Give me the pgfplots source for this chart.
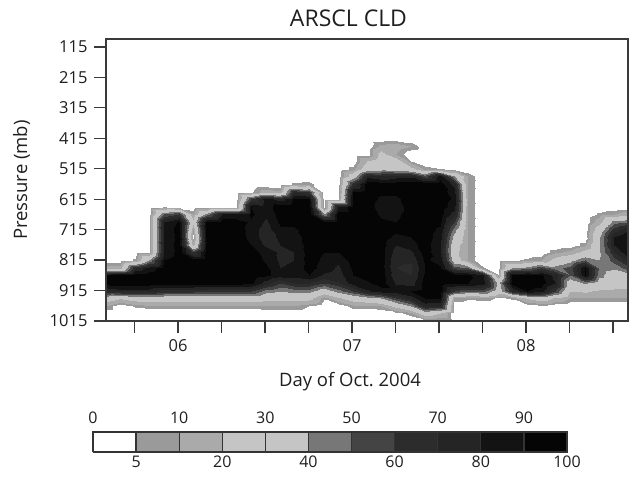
\documentclass[border=0pt]{standalone}
\usepackage{pgfplots}
\pgfplotsset{compat=1.18}
\usepackage{pgfplotstable}
\usepackage{fontspec}
\setmainfont{Open Sans}
\definecolor{axgray}{HTML}{3A3A3A}
\definecolor{cA}{HTML}{9A9A9A}
\definecolor{cB}{HTML}{AAAAAA}
\definecolor{cC}{HTML}{C5C5C5}
\definecolor{cD}{HTML}{C5C5C5}
\definecolor{cE}{HTML}{777777}
\definecolor{cF}{HTML}{444444}
\definecolor{cG}{HTML}{2C2C2C}
\definecolor{cH}{HTML}{252525}
\definecolor{cI}{HTML}{131313}
\definecolor{cJ}{HTML}{050505}
\definecolor{cbline}{HTML}{333333}

\pgfplotstableread{
x y c
5.586 1015 0
5.669 1015 0
5.753 1015 0
5.836 1015 0
5.919 1015 0
6.003 1015 0
6.086 1015 0
6.169 1015 0
6.253 1015 0
6.336 1015 0
6.419 1015 0
6.503 1015 0
6.586 1015 0
6.669 1015 0
6.753 1015 0
6.836 1015 0
6.919 1015 0
7.003 1015 0
7.086 1015 0
7.169 1015 0
7.253 1015 0
7.336 1015 0
7.419 1015 3
7.503 1015 0
7.586 1015 0
7.669 1015 0
7.753 1015 0
7.836 1015 0
7.919 1015 0
8.003 1015 0
8.086 1015 0
8.169 1015 0
8.253 1015 0
8.336 1015 0
8.419 1015 0
8.503 1015 0
8.586 1015 0
5.586 990 0
5.669 990 0
5.753 990 0
5.836 990 0
5.919 990 0
6.003 990 0
6.086 990 0
6.169 990 0
6.253 990 0
6.336 990 0
6.419 990 0
6.503 990 0
6.586 990 0
6.669 990 0
6.753 990 0
6.836 990 0
6.919 990 0
7.003 990 0
7.086 990 0
7.169 990 0
7.253 990 3
7.336 990 8
7.419 990 30
7.503 990 20
7.586 990 0
7.669 990 0
7.753 990 0
7.836 990 0
7.919 990 0
8.003 990 0
8.086 990 0
8.169 990 0
8.253 990 0
8.336 990 0
8.419 990 0
8.503 990 0
8.586 990 0
5.586 965 10
5.669 965 0
5.753 965 6
5.836 965 8
5.919 965 8
6.003 965 8
6.086 965 8
6.169 965 8
6.253 965 8
6.336 965 8
6.419 965 8
6.503 965 10
6.586 965 10
6.669 965 10
6.753 965 5
6.836 965 0
6.919 965 0
7.003 965 8
7.086 965 8
7.169 965 10
7.253 965 25
7.336 965 40
7.419 965 75
7.503 965 70
7.586 965 0
7.669 965 0
7.753 965 0
7.836 965 0
7.919 965 0
8.003 965 0
8.086 965 3
8.169 965 0
8.253 965 0
8.336 965 0
8.419 965 0
8.503 965 0
8.586 965 0
5.586 940 30
5.669 940 22
5.753 940 28
5.836 940 30
5.919 940 30
6.003 940 30
6.086 940 30
6.169 940 28
6.253 940 28
6.336 940 28
6.419 940 28
6.503 940 25
6.586 940 25
6.669 940 26
6.753 940 25
6.836 940 6
6.919 940 18
7.003 940 28
7.086 940 35
7.169 940 40
7.253 940 60
7.336 940 75
7.419 940 90
7.503 940 90
7.586 940 10
7.669 940 6
7.753 940 8
7.836 940 4
7.919 940 6
8.003 940 22
8.086 940 30
8.169 940 18
8.253 940 10
8.336 940 10
8.419 940 10
8.503 940 10
8.586 940 10
5.586 915 70
5.669 915 75
5.753 915 75
5.836 915 75
5.919 915 65
6.003 915 65
6.086 915 65
6.169 915 62
6.253 915 60
6.336 915 60
6.419 915 60
6.503 915 45
6.586 915 40
6.669 915 45
6.753 915 45
6.836 915 30
6.919 915 45
7.003 915 60
7.086 915 78
7.169 915 85
7.253 915 85
7.336 915 90
7.419 915 95
7.503 915 95
7.586 915 60
7.669 915 50
7.753 915 55
7.836 915 30
7.919 915 70
8.003 915 90
8.086 915 85
8.169 915 60
8.253 915 20
8.336 915 22
8.419 915 18
8.503 915 18
8.586 915 18
5.586 890 95
5.669 890 95
5.753 890 95
5.836 890 95
5.919 890 95
6.003 890 97
6.086 890 95
6.169 890 95
6.253 890 95
6.336 890 95
6.419 890 93
6.503 890 75
6.586 890 60
6.669 890 70
6.753 890 70
6.836 890 60
6.919 890 68
7.003 890 85
7.086 890 88
7.169 890 95
7.253 890 78
7.336 890 75
7.419 890 95
7.503 890 95
7.586 890 92
7.669 890 90
7.753 890 85
7.836 890 35
7.919 890 95
8.003 890 97
8.086 890 95
8.169 890 80
8.253 890 30
8.336 890 42
8.419 890 30
8.503 890 25
8.586 890 25
5.586 865 90
5.669 865 92
5.753 865 95
5.836 865 95
5.919 865 97
6.003 865 98
6.086 865 95
6.169 865 97
6.253 865 97
6.336 865 97
6.419 865 96
6.503 865 92
6.586 865 85
6.669 865 85
6.753 865 90
6.836 865 78
6.919 865 75
7.003 865 90
7.086 865 95
7.169 865 95
7.253 865 72
7.336 865 70
7.419 865 92
7.503 865 95
7.586 865 95
7.669 865 92
7.753 865 80
7.836 865 5.5
7.919 865 95
8.003 865 95
8.086 865 92
8.169 865 75
8.253 865 50
8.336 865 90
8.419 865 45
8.503 865 30
8.586 865 35
5.586 840 15
5.669 840 15
5.753 840 70
5.836 840 85
5.919 840 95
6.003 840 98
6.086 840 95
6.169 840 98
6.253 840 98
6.336 840 98
6.419 840 97
6.503 840 92
6.586 840 80
6.669 840 82
6.753 840 95
6.836 840 85
6.919 840 78
7.003 840 92
7.086 840 95
7.169 840 95
7.253 840 70
7.336 840 68
7.419 840 90
7.503 840 92
7.586 840 55
7.669 840 50
7.753 840 6
7.836 840 0
7.919 840 40
8.003 840 45
8.086 840 60
8.169 840 45
8.253 840 55
8.336 840 90
8.419 840 48
8.503 840 42
8.586 840 55
5.586 815 0
5.669 815 0
5.753 815 6
5.836 815 40
5.919 815 90
6.003 815 97
6.086 815 95
6.169 815 98
6.253 815 98
6.336 815 98
6.419 815 97
6.503 815 88
6.586 815 78
6.669 815 80
6.753 815 95
6.836 815 88
6.919 815 82
7.003 815 95
7.086 815 95
7.169 815 95
7.253 815 72
7.336 815 72
7.419 815 92
7.503 815 85
7.586 815 30
7.669 815 9
7.753 815 0
7.836 815 0
7.919 815 4
8.003 815 6
8.086 815 10
8.169 815 25
8.253 815 35
8.336 815 50
8.419 815 40
8.503 815 55
8.586 815 75
5.586 790 0
5.669 790 0
5.753 790 0
5.836 790 4
5.919 790 80
6.003 790 95
6.086 790 60
6.169 790 98
6.253 790 98
6.336 790 98
6.419 790 95
6.503 790 85
6.586 790 78
6.669 790 80
6.753 790 95
6.836 790 90
6.919 790 90
7.003 790 95
7.086 790 95
7.169 790 95
7.253 790 75
7.336 790 78
7.419 790 95
7.503 790 82
7.586 790 25
7.669 790 9
7.753 790 0
7.836 790 0
7.919 790 0
8.003 790 0
8.086 790 0
8.169 790 8
8.253 790 12
8.336 790 25
8.419 790 38
8.503 790 70
8.586 790 88
5.586 765 0
5.669 765 0
5.753 765 0
5.836 765 0
5.919 765 80
6.003 765 95
6.086 765 15
6.169 765 97
6.253 765 98
6.336 765 98
6.419 765 90
6.503 765 78
6.586 765 80
6.669 765 82
6.753 765 95
6.836 765 95
6.919 765 95
7.003 765 95
7.086 765 95
7.169 765 95
7.253 765 80
7.336 765 85
7.419 765 95
7.503 765 82
7.586 765 28
7.669 765 9
7.753 765 0
7.836 765 0
7.919 765 0
8.003 765 0
8.086 765 0
8.169 765 0
8.253 765 0
8.336 765 8
8.419 765 38
8.503 765 80
8.586 765 90
5.586 740 0
5.669 740 0
5.753 740 0
5.836 740 0
5.919 740 80
6.003 740 95
6.086 740 3
6.169 740 97
6.253 740 98
6.336 740 98
6.419 740 85
6.503 740 75
6.586 740 82
6.669 740 85
6.753 740 95
6.836 740 95
6.919 740 95
7.003 740 95
7.086 740 95
7.169 740 95
7.253 740 88
7.336 740 90
7.419 740 95
7.503 740 85
7.586 740 35
7.669 740 9
7.753 740 0
7.836 740 0
7.919 740 0
8.003 740 0
8.086 740 0
8.169 740 0
8.253 740 0
8.336 740 0
8.419 740 38
8.503 740 80
8.586 740 90
5.586 715 0
5.669 715 0
5.753 715 0
5.836 715 0
5.919 715 80
6.003 715 95
6.086 715 10
6.169 715 97
6.253 715 98
6.336 715 98
6.419 715 85
6.503 715 75
6.586 715 88
6.669 715 88
6.753 715 95
6.836 715 95
6.919 715 95
7.003 715 95
7.086 715 95
7.169 715 95
7.253 715 92
7.336 715 95
7.419 715 95
7.503 715 88
7.586 715 45
7.669 715 9
7.753 715 0
7.836 715 0
7.919 715 0
8.003 715 0
8.086 715 0
8.169 715 0
8.253 715 0
8.336 715 0
8.419 715 30
8.503 715 65
8.586 715 80
5.586 690 0
5.669 690 0
5.753 690 0
5.836 690 0
5.919 690 80
6.003 690 92
6.086 690 25
6.169 690 95
6.253 690 96
6.336 690 96
6.419 690 88
6.503 690 78
6.586 690 92
6.669 690 93
6.753 690 95
6.836 690 95
6.919 690 95
7.003 690 95
7.086 690 95
7.169 690 92
7.253 690 90
7.336 690 95
7.419 690 95
7.503 690 92
7.586 690 60
7.669 690 9
7.753 690 0
7.836 690 0
7.919 690 0
8.003 690 0
8.086 690 0
8.169 690 0
8.253 690 0
8.336 690 0
8.419 690 15
8.503 690 45
8.586 690 50
5.586 665 0
5.669 665 0
5.753 665 0
5.836 665 0
5.919 665 50
6.003 665 60
6.086 665 10
6.169 665 45
6.253 665 80
6.336 665 80
6.419 665 92
6.503 665 82
6.586 665 95
6.669 665 95
6.753 665 95
6.836 665 40
6.919 665 95
7.003 665 95
7.086 665 95
7.169 665 88
7.253 665 88
7.336 665 95
7.419 665 95
7.503 665 95
7.586 665 75
7.669 665 9
7.753 665 0
7.836 665 0
7.919 665 0
8.003 665 0
8.086 665 0
8.169 665 0
8.253 665 0
8.336 665 0
8.419 665 6
8.503 665 10
8.586 665 15
5.586 640 0
5.669 640 0
5.753 640 0
5.836 640 0
5.919 640 5.5
6.003 640 3
6.086 640 0
6.169 640 0
6.253 640 3
6.336 640 4
6.419 640 90
6.503 640 85
6.586 640 95
6.669 640 95
6.753 640 95
6.836 640 0
6.919 640 80
7.003 640 95
7.086 640 95
7.169 640 85
7.253 640 85
7.336 640 95
7.419 640 95
7.503 640 95
7.586 640 85
7.669 640 9
7.753 640 0
7.836 640 0
7.919 640 0
8.003 640 0
8.086 640 0
8.169 640 0
8.253 640 0
8.336 640 0
8.419 640 0
8.503 640 0
8.586 640 0
5.586 615 0
5.669 615 0
5.753 615 0
5.836 615 0
5.919 615 0
6.003 615 0
6.086 615 0
6.169 615 0
6.253 615 0
6.336 615 0
6.419 615 60
6.503 615 85
6.586 615 75
6.669 615 92
6.753 615 90
6.836 615 0
6.919 615 4
7.003 615 95
7.086 615 95
7.169 615 88
7.253 615 88
7.336 615 95
7.419 615 95
7.503 615 95
7.586 615 88
7.669 615 9
7.753 615 0
7.836 615 0
7.919 615 0
8.003 615 0
8.086 615 0
8.169 615 0
8.253 615 0
8.336 615 0
8.419 615 0
8.503 615 0
8.586 615 0
5.586 590 0
5.669 590 0
5.753 590 0
5.836 590 0
5.919 590 0
6.003 590 0
6.086 590 0
6.169 590 0
6.253 590 0
6.336 590 0
6.419 590 4
6.503 590 15
6.586 590 12
6.669 590 70
6.753 590 60
6.836 590 0
6.919 590 0
7.003 590 90
7.086 590 95
7.169 590 92
7.253 590 92
7.336 590 95
7.419 590 95
7.503 590 95
7.586 590 85
7.669 590 9
7.753 590 0
7.836 590 0
7.919 590 0
8.003 590 0
8.086 590 0
8.169 590 0
8.253 590 0
8.336 590 0
8.419 590 0
8.503 590 0
8.586 590 0
5.586 565 0
5.669 565 0
5.753 565 0
5.836 565 0
5.919 565 0
6.003 565 0
6.086 565 0
6.169 565 0
6.253 565 0
6.336 565 0
6.419 565 0
6.503 565 0
6.586 565 0
6.669 565 6
6.753 565 7
6.836 565 0
6.919 565 0
7.003 565 65
7.086 565 95
7.169 565 95
7.253 565 95
7.336 565 95
7.419 565 95
7.503 565 95
7.586 565 75
7.669 565 9
7.753 565 0
7.836 565 0
7.919 565 0
8.003 565 0
8.086 565 0
8.169 565 0
8.253 565 0
8.336 565 0
8.419 565 0
8.503 565 0
8.586 565 0
5.586 540 0
5.669 540 0
5.753 540 0
5.836 540 0
5.919 540 0
6.003 540 0
6.086 540 0
6.169 540 0
6.253 540 0
6.336 540 0
6.419 540 0
6.503 540 0
6.586 540 0
6.669 540 0
6.753 540 0
6.836 540 0
6.919 540 0
7.003 540 30
7.086 540 75
7.169 540 70
7.253 540 75
7.336 540 75
7.419 540 55
7.503 540 85
7.586 540 40
7.669 540 9
7.753 540 0
7.836 540 0
7.919 540 0
8.003 540 0
8.086 540 0
8.169 540 0
8.253 540 0
8.336 540 0
8.419 540 0
8.503 540 0
8.586 540 0
5.586 515 0
5.669 515 0
5.753 515 0
5.836 515 0
5.919 515 0
6.003 515 0
6.086 515 0
6.169 515 0
6.253 515 0
6.336 515 0
6.419 515 0
6.503 515 0
6.586 515 0
6.669 515 0
6.753 515 0
6.836 515 0
6.919 515 0
7.003 515 7
7.086 515 30
7.169 515 35
7.253 515 30
7.336 515 25
7.419 515 8
7.503 515 5.5
7.586 515 4
7.669 515 0
7.753 515 0
7.836 515 0
7.919 515 0
8.003 515 0
8.086 515 0
8.169 515 0
8.253 515 0
8.336 515 0
8.419 515 0
8.503 515 0
8.586 515 0
5.586 490 0
5.669 490 0
5.753 490 0
5.836 490 0
5.919 490 0
6.003 490 0
6.086 490 0
6.169 490 0
6.253 490 0
6.336 490 0
6.419 490 0
6.503 490 0
6.586 490 0
6.669 490 0
6.753 490 0
6.836 490 0
6.919 490 0
7.003 490 0
7.086 490 20
7.169 490 30
7.253 490 28
7.336 490 5
7.419 490 0
7.503 490 0
7.586 490 0
7.669 490 0
7.753 490 0
7.836 490 0
7.919 490 0
8.003 490 0
8.086 490 0
8.169 490 0
8.253 490 0
8.336 490 0
8.419 490 0
8.503 490 0
8.586 490 0
5.586 465 0
5.669 465 0
5.753 465 0
5.836 465 0
5.919 465 0
6.003 465 0
6.086 465 0
6.169 465 0
6.253 465 0
6.336 465 0
6.419 465 0
6.503 465 0
6.586 465 0
6.669 465 0
6.753 465 0
6.836 465 0
6.919 465 0
7.003 465 0
7.086 465 0
7.169 465 25
7.253 465 10
7.336 465 0
7.419 465 0
7.503 465 0
7.586 465 0
7.669 465 0
7.753 465 0
7.836 465 0
7.919 465 0
8.003 465 0
8.086 465 0
8.169 465 0
8.253 465 0
8.336 465 0
8.419 465 0
8.503 465 0
8.586 465 0
5.586 440 0
5.669 440 0
5.753 440 0
5.836 440 0
5.919 440 0
6.003 440 0
6.086 440 0
6.169 440 0
6.253 440 0
6.336 440 0
6.419 440 0
6.503 440 0
6.586 440 0
6.669 440 0
6.753 440 0
6.836 440 0
6.919 440 0
7.003 440 0
7.086 440 0
7.169 440 12
7.253 440 15
7.336 440 10
7.419 440 0
7.503 440 0
7.586 440 0
7.669 440 0
7.753 440 0
7.836 440 0
7.919 440 0
8.003 440 0
8.086 440 0
8.169 440 0
8.253 440 0
8.336 440 0
8.419 440 0
8.503 440 0
8.586 440 0
5.586 415 0
5.669 415 0
5.753 415 0
5.836 415 0
5.919 415 0
6.003 415 0
6.086 415 0
6.169 415 0
6.253 415 0
6.336 415 0
6.419 415 0
6.503 415 0
6.586 415 0
6.669 415 0
6.753 415 0
6.836 415 0
6.919 415 0
7.003 415 0
7.086 415 0
7.169 415 0
7.253 415 0
7.336 415 0
7.419 415 0
7.503 415 0
7.586 415 0
7.669 415 0
7.753 415 0
7.836 415 0
7.919 415 0
8.003 415 0
8.086 415 0
8.169 415 0
8.253 415 0
8.336 415 0
8.419 415 0
8.503 415 0
8.586 415 0
}\cld

\begin{document}
\begin{tikzpicture}
\useasboundingbox (0,0) rectangle (639bp,479bp);
\begin{axis}[
  at={(106bp,158bp)}, anchor=south west,
  width=522bp, height=282bp, scale only axis,
  xmin=5.586, xmax=8.586, ymin=89, ymax=1015, y dir=reverse,
  axis on top,
  tick pos=left, tick align=outside,
  major tick length=12bp, minor tick length=12bp,
  xtick={6,7,8}, xticklabels={06,07,08},
  minor xtick={5.75,6.25,6.5,6.75,7.25,7.5,7.75,8.25,8.5},
  ytick={115,215,315,415,515,615,715,815,915,1015},
  yticklabels={115,215,315,415,515,615,715,815,915,1015},
  ticklabel style={font=\fontsize{16.5bp}{20bp}\selectfont, text=black!88},
  xticklabel style={yshift=-3bp},
  yticklabel style={xshift=-3bp},
  xlabel={Day of Oct.\ 2004}, ylabel={Pressure (mb)},
  label style={font=\fontsize{18.5bp}{22bp}\selectfont, text=black!88},
  xlabel style={at={(axis description cs:0.4674,-0.234)}, anchor=base},
  ylabel style={at={(axis description cs:-0.1513,0.5)}, anchor=base},
  axis line style={axgray, line width=1.2bp},
  tick style={axgray, line width=1.2bp},
  colormap={cld}{color(0pt)=(white) color(5pt)=(cA) color(10pt)=(cB) color(20pt)=(cC) color(30pt)=(cD) color(40pt)=(cE) color(50pt)=(cF) color(60pt)=(cG) color(70pt)=(cH) color(80pt)=(cI) color(90pt)=(cJ) color(100pt)=(cJ)},
  colormap access=piecewise constant,
  point meta min=0, point meta max=100,
]
\addplot[surf, shader=interp, mesh/cols=37, point meta=explicit] table[x=x, y=y, meta=c] {\cld};
\end{axis}
\node[font=\fontsize{23bp}{27bp}\selectfont, text=black!88] at (348.5bp,460.5bp) {ARSCL CLD};
\begin{axis}[
  at={(93bp,27bp)}, anchor=south west,
  width=474bp, height=20bp, scale only axis,
  xmin=0, xmax=11, ymin=0, ymax=1, hide axis, clip=false,
]
\addplot[fill=white, draw=cbline, line width=1.3bp] coordinates {(0,0) (1,0) (1,1) (0,1) (0,0)};
\addplot[fill=cA, draw=cbline, line width=1.3bp] coordinates {(1,0) (2,0) (2,1) (1,1) (1,0)};
\addplot[fill=cB, draw=cbline, line width=1.3bp] coordinates {(2,0) (3,0) (3,1) (2,1) (2,0)};
\addplot[fill=cC, draw=cbline, line width=1.3bp] coordinates {(3,0) (4,0) (4,1) (3,1) (3,0)};
\addplot[fill=cD, draw=cbline, line width=1.3bp] coordinates {(4,0) (5,0) (5,1) (4,1) (4,0)};
\addplot[fill=cE, draw=cbline, line width=1.3bp] coordinates {(5,0) (6,0) (6,1) (5,1) (5,0)};
\addplot[fill=cF, draw=cbline, line width=1.3bp] coordinates {(6,0) (7,0) (7,1) (6,1) (6,0)};
\addplot[fill=cG, draw=cbline, line width=1.3bp] coordinates {(7,0) (8,0) (8,1) (7,1) (7,0)};
\addplot[fill=cH, draw=cbline, line width=1.3bp] coordinates {(8,0) (9,0) (9,1) (8,1) (8,0)};
\addplot[fill=cI, draw=cbline, line width=1.3bp] coordinates {(9,0) (10,0) (10,1) (9,1) (9,0)};
\addplot[fill=cJ, draw=cbline, line width=1.3bp] coordinates {(10,0) (11,0) (11,1) (10,1) (10,0)};
\begin{scope}[every node/.style={font=\fontsize{16bp}{19bp}\selectfont, text=black!88, anchor=base}]
\node[yshift=9bp] at (axis cs:0,1) {0};
\node[yshift=9bp] at (axis cs:2,1) {10};
\node[yshift=9bp] at (axis cs:4,1) {30};
\node[yshift=9bp] at (axis cs:6,1) {50};
\node[yshift=9bp] at (axis cs:8,1) {70};
\node[yshift=9bp] at (axis cs:10,1) {90};
\node[yshift=-15bp] at (axis cs:1,0) {5};
\node[yshift=-15bp] at (axis cs:3,0) {20};
\node[yshift=-15bp] at (axis cs:5,0) {40};
\node[yshift=-15bp] at (axis cs:7,0) {60};
\node[yshift=-15bp] at (axis cs:9,0) {80};
\node[yshift=-15bp] at (axis cs:11,0) {100};
\end{scope}
\end{axis}
\end{tikzpicture}
\end{document}
